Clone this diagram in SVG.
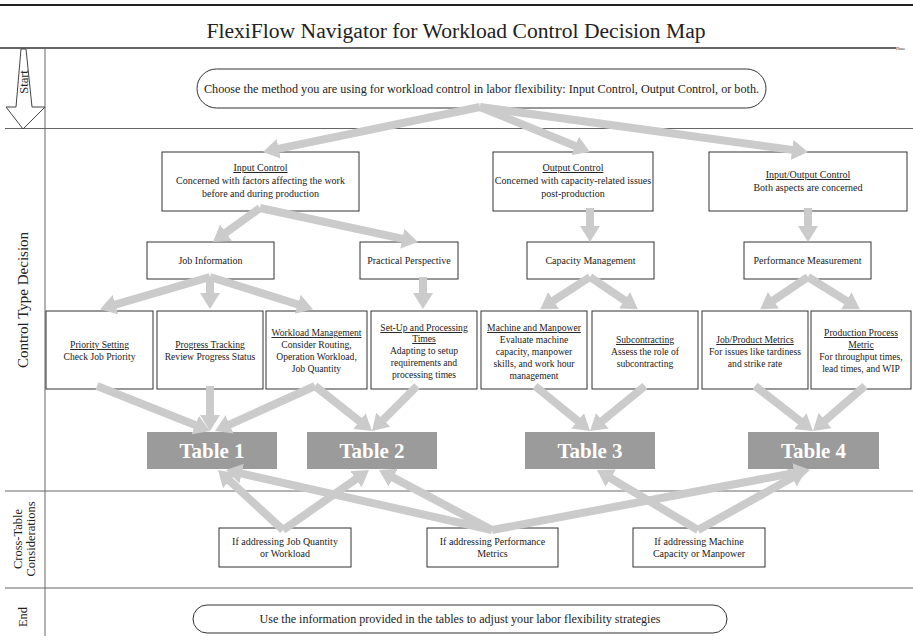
<svg xmlns="http://www.w3.org/2000/svg" width="913" height="643" viewBox="0 0 913 643">
<style>
text{font-family:"Liberation Serif","Times New Roman",serif;fill:#222;}
.t{font-size:10px;text-anchor:middle;}
.s{font-size:9.6px;}
.u{text-decoration:underline;}
.box{fill:#fff;stroke:#333;stroke-width:1;}
.tbl{fill:#9b9b9b;stroke:none;}
.tt{font-size:21px;font-weight:bold;fill:#fff;text-anchor:middle;}
.lane{stroke:#666;stroke-width:1;}
.lbl{font-size:12.5px;text-anchor:middle;}
.c{stroke:#cbcbcb;stroke-width:8;fill:none;marker-end:url(#ah);}
</style>
<defs>
<marker id="ah" markerUnits="userSpaceOnUse" markerWidth="16" markerHeight="20" viewBox="0 0 16 20" refX="2" refY="10" orient="auto">
<path d="M0,0 L16,10 L0,20 z" fill="#cbcbcb"/>
</marker>
</defs>
<rect width="913" height="643" fill="#fff"/>
<line x1="0" y1="5" x2="913" y2="5" stroke="#222" stroke-width="2"/>
<text x="456" y="38" style="font-size:21.6px;text-anchor:middle;">FlexiFlow Navigator for Workload Control Decision Map</text>
<line x1="0" y1="48" x2="896" y2="48" stroke="#333" stroke-width="1.5"/>
<text x="896" y="49.5" style="font-size:4px;">Phase</text>
<g id="lanes">
<line class="lane" x1="45" y1="48" x2="45" y2="636"/>
<line class="lane" x1="5" y1="128.5" x2="913" y2="128.5"/>
<line class="lane" x1="5" y1="491" x2="913" y2="491"/>
<line class="lane" x1="5" y1="588" x2="913" y2="588"/>
<polygon points="21,49 26,49 32,107 45,107 23,129 6,107 16,107" fill="#fff" stroke="#444" stroke-width="1"/>
<text class="lbl" transform="translate(28,82) rotate(-90)">Start</text>
<text class="lbl" transform="translate(28,300) rotate(-90)" style="font-size:15px;">Control Type Decision</text>
<text class="lbl" transform="translate(22,539) rotate(-90)">Cross-Table</text>
<text class="lbl" transform="translate(35,539) rotate(-90)">Considerations</text>
<text class="lbl" transform="translate(27,617) rotate(-90)">End</text>
</g>
<g id="start">
<rect x="197" y="69" width="569" height="39" rx="19.5" class="box"/>
<text x="481.5" y="93" style="font-size:12.2px;text-anchor:middle;">Choose the method you are using for workload control in labor flexibility: Input Control, Output Control, or both.</text>
</g>
<g id="input-control">
<rect x="162" y="152" width="197" height="59" class="box"/>
<text class="t u" x="260.5" y="171">Input Control</text>
<text class="t" x="260.5" y="184">Concerned with factors affecting the work</text>
<text class="t" x="260.5" y="197">before and during production</text>
</g>
<g id="output-control">
<rect x="493" y="152" width="160" height="59" class="box"/>
<text class="t u" x="573" y="171">Output Control</text>
<text class="t" x="573" y="184">Concerned with capacity-related issues</text>
<text class="t" x="573" y="197">post-production</text>
</g>
<g id="io-control">
<rect x="709" y="152" width="198" height="59" class="box"/>
<text class="t u" x="808" y="178">Input/Output Control</text>
<text class="t" x="808" y="191">Both aspects are concerned</text>
</g>
<g id="job-info">
<rect x="147" y="242" width="127" height="37" class="box"/>
<text class="t" x="210.5" y="264">Job Information</text>
</g>
<g id="practical">
<rect x="360" y="242" width="98" height="37" class="box"/>
<text class="t" x="409" y="264">Practical Perspective</text>
</g>
<g id="capacity">
<rect x="527" y="242" width="127" height="37" class="box"/>
<text class="t" x="590.5" y="264">Capacity Management</text>
</g>
<g id="performance">
<rect x="744" y="242" width="127" height="37" class="box"/>
<text class="t" x="807.5" y="264">Performance Measurement</text>
</g>
<g id="priority">
<rect x="46" y="311" width="107" height="78" class="box"/>
<text class="t s u" x="99.5" y="348">Priority Setting</text>
<text class="t s" x="99.5" y="360">Check Job Priority</text>
</g>
<g id="progress">
<rect x="157" y="311" width="106" height="78" class="box"/>
<text class="t s u" x="210" y="348">Progress Tracking</text>
<text class="t s" x="210" y="360">Review Progress Status</text>
</g>
<g id="workload">
<rect x="266" y="311" width="101" height="78" class="box"/>
<text class="t s u" x="316.5" y="336">Workload Management</text>
<text class="t s" x="316.5" y="348">Consider Routing,</text>
<text class="t s" x="316.5" y="360">Operation Workload,</text>
<text class="t s" x="316.5" y="372">Job Quantity</text>
</g>
<g id="setup">
<rect x="371" y="311" width="106" height="78" class="box"/>
<text class="t s u" x="424" y="331">Set-Up and Processing</text>
<text class="t s u" x="424" y="342">Times</text>
<text class="t s" x="424" y="354">Adapting to setup</text>
<text class="t s" x="424" y="366">requirements and</text>
<text class="t s" x="424" y="378">processing times</text>
</g>
<g id="machine">
<rect x="481" y="311" width="106" height="78" class="box"/>
<text class="t s u" x="534" y="331">Machine and Manpower</text>
<text class="t s" x="534" y="343">Evaluate machine</text>
<text class="t s" x="534" y="355">capacity, manpower</text>
<text class="t s" x="534" y="367">skills, and work hour</text>
<text class="t s" x="534" y="379">management</text>
</g>
<g id="subcontracting">
<rect x="592" y="311" width="106" height="78" class="box"/>
<text class="t s u" x="645" y="343">Subcontracting</text>
<text class="t s" x="645" y="355">Assess the role of</text>
<text class="t s" x="645" y="367">subcontracting</text>
</g>
<g id="job-product">
<rect x="702" y="311" width="106" height="78" class="box"/>
<text class="t s u" x="755" y="343">Job/Product Metrics</text>
<text class="t s" x="755" y="355">For issues like tardiness</text>
<text class="t s" x="755" y="367">and strike rate</text>
</g>
<g id="production">
<rect x="811" y="311" width="100" height="78" class="box"/>
<text class="t s u" x="861" y="336">Production Process</text>
<text class="t s u" x="861" y="348">Metric</text>
<text class="t s" x="861" y="360">For throughput times,</text>
<text class="t s" x="861" y="372">lead times, and WIP</text>
</g>
<g id="table1">
<rect x="147" y="432" width="130" height="37" class="tbl"/>
<text class="tt" x="212" y="458">Table 1</text>
</g>
<g id="table2">
<rect x="307" y="432" width="130" height="37" class="tbl"/>
<text class="tt" x="372" y="458">Table 2</text>
</g>
<g id="table3">
<rect x="525" y="432" width="130" height="37" class="tbl"/>
<text class="tt" x="590" y="458">Table 3</text>
</g>
<g id="table4">
<rect x="748" y="432" width="131" height="37" class="tbl"/>
<text class="tt" x="813.5" y="458">Table 4</text>
</g>
<g id="cross-job">
<rect x="219" y="528" width="132" height="39" class="box"/>
<text class="t" x="285" y="545">If addressing Job Quantity</text>
<text class="t" x="285" y="557">or Workload</text>
</g>
<g id="cross-perf">
<rect x="427" y="528" width="131" height="39" class="box"/>
<text class="t" x="492.5" y="545">If addressing Performance</text>
<text class="t" x="492.5" y="557">Metrics</text>
</g>
<g id="cross-machine">
<rect x="633" y="528" width="132" height="39" class="box"/>
<text class="t" x="699" y="545">If addressing Machine</text>
<text class="t" x="699" y="557">Capacity or Manpower</text>
</g>
<g id="end">
<rect x="193" y="605" width="534" height="28" rx="14" class="box"/>
<text x="460" y="623" style="font-size:12.1px;text-anchor:middle;">Use the information provided in the tables to adjust your labor flexibility strategies</text>
</g>
<g id="connectors">
<line class="c" x1="480" y1="107" x2="276.7" y2="149.2"/>
<line class="c" x1="480" y1="107" x2="577" y2="146.7"/>
<line class="c" x1="480" y1="107" x2="794.1" y2="150.1"/>
<line class="c" x1="260" y1="208" x2="224.3" y2="233.8"/>
<line class="c" x1="260" y1="208" x2="404.3" y2="239.1"/>
<line class="c" x1="590" y1="208" x2="590" y2="228"/>
<line class="c" x1="808" y1="208" x2="808" y2="228"/>
<line class="c" x1="210" y1="277" x2="113.5" y2="305.2"/>
<line class="c" x1="210" y1="277" x2="210" y2="295"/>
<line class="c" x1="210" y1="277" x2="299.6" y2="305"/>
<line class="c" x1="423" y1="277" x2="423" y2="295"/>
<line class="c" x1="590" y1="277" x2="551.9" y2="301.6"/>
<line class="c" x1="590" y1="277" x2="626.2" y2="301.4"/>
<line class="c" x1="808" y1="277" x2="771.8" y2="301.4"/>
<line class="c" x1="808" y1="277" x2="848" y2="301.8"/>
<line class="c" x1="97" y1="386" x2="197" y2="425.8"/>
<line class="c" x1="210" y1="386" x2="210" y2="417"/>
<line class="c" x1="315" y1="386" x2="227.8" y2="425.3"/>
<line class="c" x1="315" y1="386" x2="361" y2="422.3"/>
<line class="c" x1="417" y1="386" x2="381.9" y2="421.1"/>
<line class="c" x1="535" y1="386" x2="579.2" y2="422.1"/>
<line class="c" x1="645" y1="386" x2="600.8" y2="422.1"/>
<line class="c" x1="755" y1="386" x2="801.9" y2="422.4"/>
<line class="c" x1="865" y1="386" x2="823.6" y2="421.8"/>
<line class="c" x1="283" y1="530" x2="228.3" y2="479.5"/>
<line class="c" x1="283" y1="530" x2="357.5" y2="478"/>
<line class="c" x1="492" y1="530" x2="239.7" y2="473.1"/>
<line class="c" x1="492" y1="530" x2="391.4" y2="476.6"/>
<line class="c" x1="492" y1="530" x2="796.2" y2="472.6"/>
<line class="c" x1="698" y1="530" x2="609" y2="477.2"/>
<line class="c" x1="698" y1="530" x2="793.8" y2="476.8"/>
</g>
</svg>
